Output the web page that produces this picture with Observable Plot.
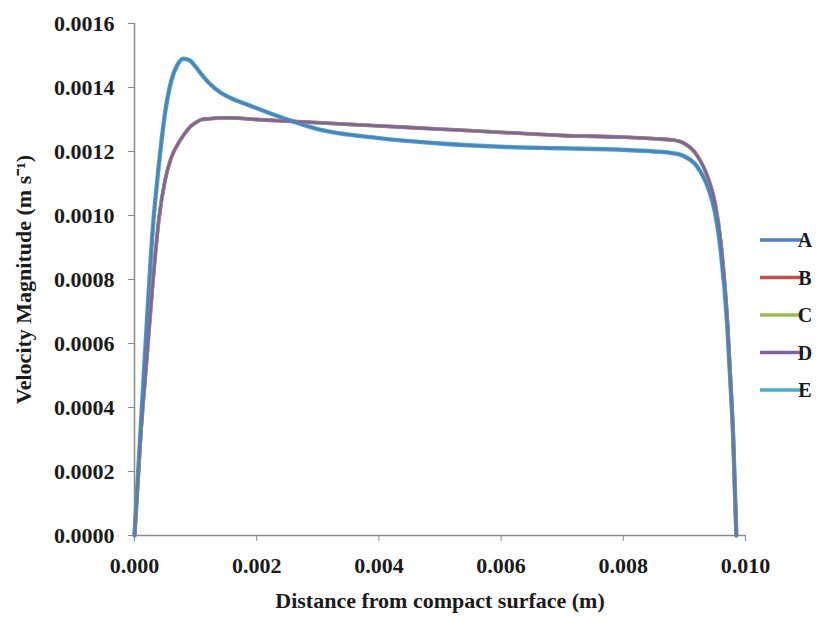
<!DOCTYPE html>
<html>
<head>
<meta charset="utf-8">
<script src="https://cdn.jsdelivr.net/npm/d3@7"></script>
<script src="https://cdn.jsdelivr.net/npm/@observablehq/plot@0.6"></script>
<style>
  html, body { margin: 0; padding: 0; background: #fff; }
  #chart { position: relative; width: 824px; height: 629px; }
</style>
</head>
<body>
<div id="chart"></div>
<script>
// Distance from compact surface (m)
const distance = [0, 0.0001, 0.0002, 0.0003, 0.0004, 0.0005, 0.0006, 0.0007, 0.0008, 0.0009, 0.001, 0.0011, 0.0012, 0.0014, 0.0016, 0.0018, 0.002, 0.0025, 0.003, 0.004, 0.005, 0.006, 0.007, 0.008, 0.0085, 0.0088, 0.009, 0.0092, 0.0094, 0.0095, 0.0096, 0.0097, 0.00975, 0.0098, 0.00985];

// Velocity magnitude (m/s) per series
const seriesA = [0, 0.00033, 0.00066, 0.00096, 0.00116, 0.00132, 0.00142, 0.00147, 0.00149, 0.001485, 0.001465, 0.00144, 0.001418, 0.001385, 0.001365, 0.00135, 0.001335, 0.0013, 0.00127, 0.001242, 0.001225, 0.001215, 0.00121, 0.001205, 0.0012, 0.001195, 0.001185, 0.001155, 0.00108, 0.00101, 0.00088, 0.00066, 0.00049, 0.0003, 0];
const seriesB = [0, 0.00031, 0.00055, 0.00079, 0.00099, 0.00111, 0.00118, 0.00122, 0.00125, 0.001275, 0.00129, 0.0013, 0.001302, 0.001305, 0.001305, 0.001303, 0.0013, 0.001295, 0.00129, 0.00128, 0.00127, 0.00126, 0.00125, 0.001245, 0.00124, 0.001236, 0.001225, 0.00119, 0.00111, 0.00104, 0.00091, 0.00068, 0.0005, 0.0003, 0];
const seriesC = [0, 0.00031, 0.00055, 0.00079, 0.00099, 0.00111, 0.00118, 0.00122, 0.00125, 0.001275, 0.00129, 0.0013, 0.001302, 0.001305, 0.001305, 0.001303, 0.0013, 0.001295, 0.00129, 0.00128, 0.00127, 0.00126, 0.00125, 0.001245, 0.00124, 0.001236, 0.001225, 0.00119, 0.00111, 0.00104, 0.00091, 0.00068, 0.0005, 0.0003, 0];
const seriesD = [0, 0.00031, 0.00055, 0.00079, 0.00099, 0.00111, 0.00118, 0.00122, 0.00125, 0.001275, 0.00129, 0.0013, 0.001302, 0.001305, 0.001305, 0.001303, 0.0013, 0.001295, 0.00129, 0.00128, 0.00127, 0.00126, 0.00125, 0.001245, 0.00124, 0.001236, 0.001225, 0.00119, 0.00111, 0.00104, 0.00091, 0.00068, 0.0005, 0.0003, 0];
const seriesE = [0, 0.00033, 0.00066, 0.00096, 0.00116, 0.00132, 0.00142, 0.00147, 0.00149, 0.001485, 0.001465, 0.00144, 0.001418, 0.001385, 0.001365, 0.00135, 0.001335, 0.0013, 0.00127, 0.001242, 0.001225, 0.001215, 0.00121, 0.001205, 0.0012, 0.001195, 0.001185, 0.001155, 0.00108, 0.00101, 0.00088, 0.00066, 0.00049, 0.0003, 0];

const seriesNames = ["A", "B", "C", "D", "E"];
const seriesColors = ["#4F81BD", "#C0504D", "#9BBB59", "#8064A2", "#4BACC6"];
const yTicks = [0, 0.0002, 0.0004, 0.0006, 0.0008, 0.0010, 0.0012, 0.0014, 0.0016];
const xTicks = [0, 0.002, 0.004, 0.006, 0.008, 0.010];
const xTitle = "Distance from compact surface (m)";
const yTitle = "Velocity Magnitude (m s\u207B\u00B9)";

const allSeries = [seriesA, seriesB, seriesC, seriesD, seriesE];
const rows = seriesNames.map((name, i) => distance.map((d, j) => ({series: name, x: d, v: allSeries[i][j]})));
const byName = Object.fromEntries(seriesNames.map((n, i) => [n, rows[i]]));
const colorOf = Object.fromEntries(seriesNames.map((n, i) => [n, seriesColors[i]]));
// drawing order and widths chosen so the overlapped colours resemble the reference
const drawOrder = [["E", 4.4], ["B", 3.8], ["C", 3.4], ["D", 2.8], ["A", 2.6]];

const font = "'Liberation Serif', 'Times New Roman', serif";
const axisColor = "#8a8a8a";

const chart = Plot.plot({
  width: 824,
  height: 629,
  marginLeft: 134,
  marginRight: 79,
  marginTop: 23,
  marginBottom: 94,
  style: {fontFamily: font, background: "#fff", color: "#1a1a1a"},
  x: {domain: [0, 0.010]},
  y: {domain: [0, 0.0016]},
  marks: [
    Plot.axisY({ticks: yTicks, tickFormat: d3.format(".4f"), tickSize: 6, tickPadding: 14,
      fontSize: 22, fontWeight: "bold", stroke: axisColor, fill: "#1a1a1a", label: null}),
    Plot.axisX({ticks: xTicks, tickFormat: d3.format(".3f"), tickSize: 6, tickPadding: 16,
      fontSize: 22, fontWeight: "bold", stroke: axisColor, fill: "#1a1a1a", label: null}),
    Plot.ruleY([0], {stroke: axisColor, strokeWidth: 1.5}),
    Plot.ruleX([0], {stroke: axisColor, strokeWidth: 1.5}),
    ...drawOrder.map(([n, w]) => Plot.line(byName[n], {x: "x", y: "v", stroke: colorOf[n], strokeWidth: w, curve: "monotone-x"})),
    Plot.text([yTitle], {frameAnchor: "left", dx: -111, rotate: -90, fontSize: 22, fontWeight: "bold", textAnchor: "middle", fill: "#1a1a1a"}),
    Plot.text([xTitle], {frameAnchor: "bottom", dy: 72, fontSize: 22, fontWeight: "bold", textAnchor: "middle", fill: "#1a1a1a"})
  ]
});

// Legend on the right side
const svg = d3.select(chart);
const lg = svg.append("g").attr("font-family", font).attr("font-weight", "bold").attr("font-size", 20);
seriesNames.forEach((n, i) => {
  const y = 240 + i * 37.5;
  lg.append("line").attr("x1", 760).attr("x2", 803).attr("y1", y).attr("y2", y)
    .attr("stroke", seriesColors[i]).attr("stroke-width", 3.5);
  lg.append("text").attr("x", 805).attr("y", y).attr("dy", "0.35em").attr("fill", "#1a1a1a").text(n);
});

document.getElementById("chart").appendChild(chart);
</script>
</body>
</html>
